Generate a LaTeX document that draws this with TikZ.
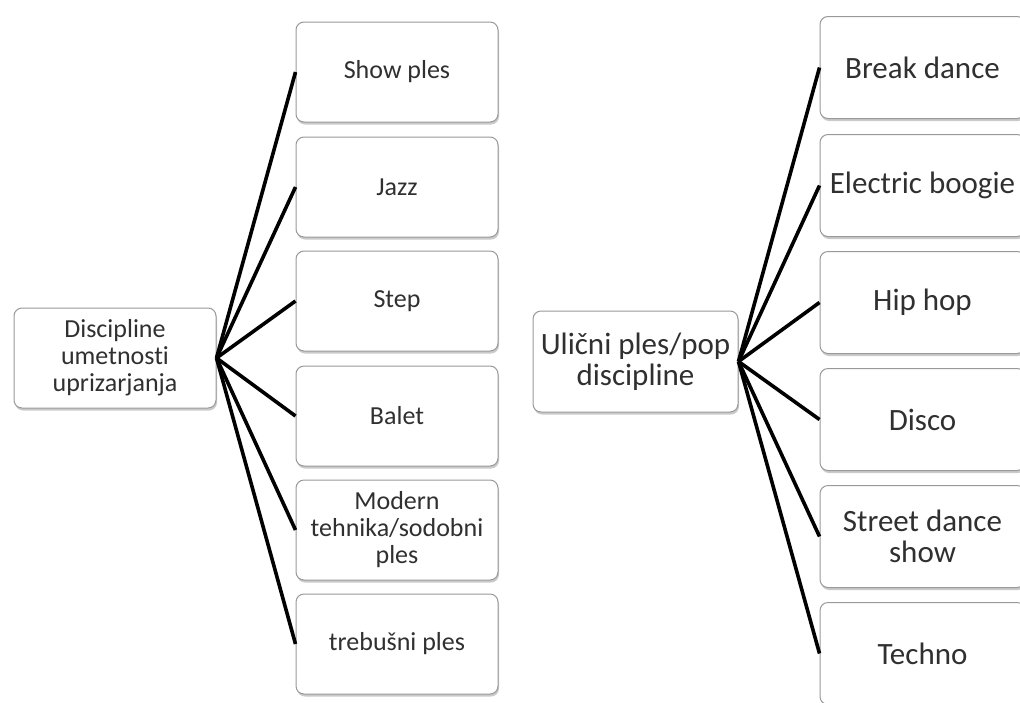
\documentclass[tikz,border=0pt]{standalone}
\usepackage{fontspec}
\setmainfont{Carlito}[RawFeature=-liga]
\usetikzlibrary{shadows}
\definecolor{txt}{HTML}{303030}
\definecolor{bord}{HTML}{999999}
\begin{document}
\begin{tikzpicture}[x=1pt,y=-1pt,
  box/.style={draw=bord, line width=1pt, fill=white, rounded corners=8pt, align=center, text=txt, inner sep=0pt,
    drop shadow={opacity=0.35, shadow xshift=1pt, shadow yshift=-2.5pt, fill=black!60}},
  lbox/.style={box, minimum width=202pt, minimum height=100pt, font=\fontsize{26}{27}\selectfont},
  rbox/.style={box, minimum width=205pt, minimum height=102pt, font=\fontsize{31}{31.5}\selectfont},
  conn/.style={line width=3.6pt, black}]
\useasboundingbox (0,0) rectangle (1020,702);
\clip (0,0) rectangle (1020,702);
% left group
\node[lbox] (L) at (115,358) {Discipline\\umetnosti\\uprizarjanja};
\node[lbox] (L1) at (397,72) {Show ples};
\node[lbox] (L2) at (397,187) {Jazz};
\node[lbox] (L3) at (397,301) {Step};
\node[lbox] (L4) at (397,416) {Balet};
\node[lbox] (L5) at (397,530) {Modern\\tehnika/sodobni\\ples};
\node[lbox] (L6) at (397,644) {trebušni ples};
\foreach \n in {L1,L2,L3,L4,L5,L6} \draw[conn] (L.east) -- (\n.west);
% right group
\node[rbox, minimum height=101pt] (R) at (635.5,361.5) {Ulični ples/pop\\discipline};
\node[rbox] (R1) at (922.5,67.5) {Break dance};
\node[rbox] (R2) at (922.5,185.5) {Electric boogie};
\node[rbox] (R3) at (922.5,302.5) {Hip hop};
\node[rbox] (R4) at (922.5,419.5) {Disco};
\node[rbox] (R5) at (922.5,536.5) {Street dance\\show};
\node[rbox] (R6) at (922.5,653.5) {Techno};
\foreach \n in {R1,R2,R3,R4,R5,R6} \draw[conn] (R.east) -- (\n.west);
\end{tikzpicture}
\end{document}
